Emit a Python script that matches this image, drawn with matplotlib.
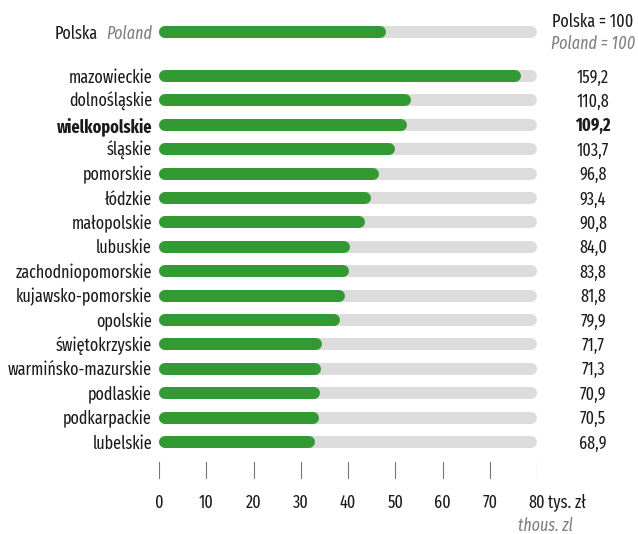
import matplotlib.pyplot as plt

# narrow face close to the original
plt.rcParams['font.family'] = ['Fira Sans Extra Condensed', 'DejaVu Sans']

regions = ['mazowieckie', 'dolnośląskie', 'wielkopolskie', 'śląskie', 'pomorskie',
           'łódzkie', 'małopolskie', 'lubuskie', 'zachodniopomorskie',
           'kujawsko-pomorskie', 'opolskie', 'świętokrzyskie', 'warmińsko-mazurskie',
           'podlaskie', 'podkarpackie', 'lubelskie']
values = [76.6, 53.3, 52.5, 49.9, 46.6, 44.9, 43.7, 40.4, 40.3, 39.3, 38.4,
          34.5, 34.3, 34.1, 33.9, 33.1]
index = ['159,2', '110,8', '109,2', '103,7', '96,8', '93,4', '90,8', '84,0',
         '83,8', '81,8', '79,9', '71,7', '71,3', '70,9', '70,5', '68,9']
poland_value = 48.1
ticks = [0, 10, 20, 30, 40, 50, 60, 70, 80]

green = '#339933'
track = '#dcdcdc'
dark = '#1a1a1a'
grey = '#808080'
fs = 12.6

fig = plt.figure(figsize=(6.38, 5.34), dpi=100)
# axes: x 0..80 maps to px 159..537, y in pixel units (top = 0)
ax = fig.add_axes([159 / 638, 0, 378 / 638, 1])
ax.set_xlim(0, 80)
ax.set_ylim(534, 0)
ax.axis('off')

px = 80 / 378  # data units per pixel
lw = 12 * 0.72  # bar thickness in points
r = 6 * px      # round cap radius in data units
dy = 1.5        # text sits a touch below bar centre


def bar(y, v):
    ax.plot([r, 80 - r], [y, y], color=track, lw=lw, solid_capstyle='round')
    ax.plot([r, v - r], [y, y], color=green, lw=lw, solid_capstyle='round')


lab_x = -7 * px
val_x = 80 + 56 * px

# Poland row
bar(32, poland_value)
ax.text(-61 * px, 32 + dy, 'Polska', ha='right', va='center', fontsize=fs, color=dark)
ax.text(lab_x, 32 + dy, 'Poland', ha='right', va='center', fontsize=fs,
        color=grey, style='italic')
ax.text(val_x, 20 + dy, 'Polska = 100', ha='center', va='center', fontsize=fs, color=dark)
ax.text(val_x, 42 + dy, 'Poland = 100', ha='center', va='center', fontsize=fs,
        color=grey, style='italic')

for i, (name, v, idx) in enumerate(zip(regions, values, index)):
    y = 76 + i * 24.4
    bar(y, v)
    weight = 'bold' if name == 'wielkopolskie' else 'normal'
    ax.text(lab_x, y + dy, name, ha='right', va='center', fontsize=fs,
            color=dark, fontweight=weight)
    ax.text(val_x, y + dy, idx, ha='center', va='center', fontsize=fs,
            color=dark, fontweight=weight)

for t in ticks:
    ax.plot([t, t], [462, 478], color='#777777', lw=0.8)
    ax.text(t, 503, str(t), ha='center', va='center', fontsize=fs, color=dark)
ax.text(80 + 11 * px, 503, 'tys. zł', ha='left', va='center', fontsize=fs, color=dark)
ax.text(80 + 36 * px, 526, 'thous. zl', ha='right', va='center', fontsize=fs,
        color=grey, style='italic')

fig.savefig('out.png', dpi=100)
